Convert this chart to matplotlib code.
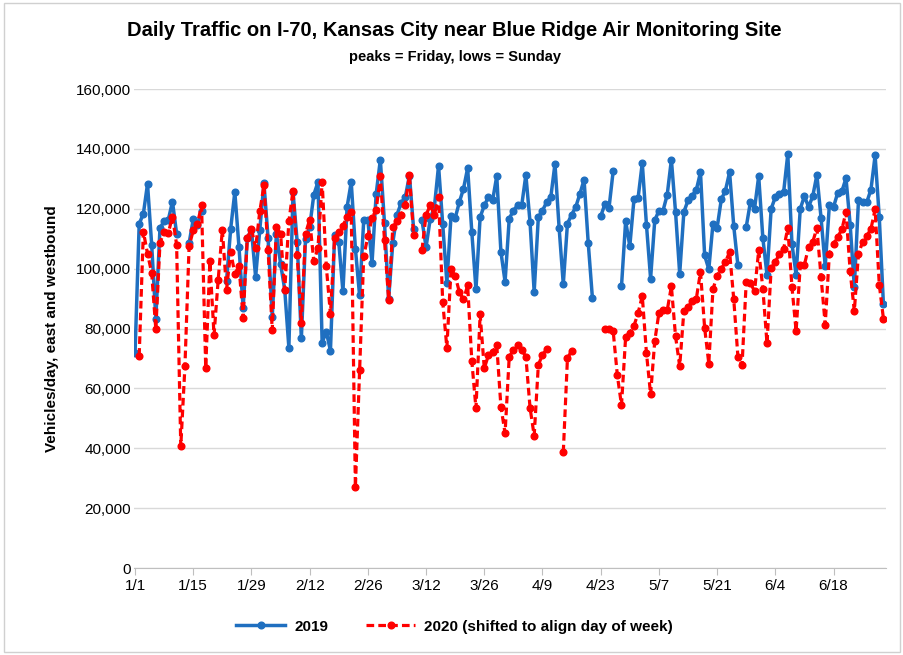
import matplotlib; matplotlib.use('Agg')
import matplotlib.pyplot as plt
import matplotlib.patches as patches
from matplotlib.ticker import FuncFormatter
import numpy as np

plt.rcParams['font.family'] = ['Liberation Sans', 'DejaVu Sans']

BLUE = '#1f6fc0'
RED = '#ff0000'
GRID = '#d9d9d9'

# daily traffic, thousands of vehicles, day 0 = 1/1 (None = no data)
traffic_2019_k = [
    71.7, 115.0, 118.3, 128.3, 108.0, 83.3, 113.6, 115.8, 116.3, 122.4,
    111.7, None, None, 108.5, 116.5, 114.7, 119.4, None, None, None,
    None, None, 95.8, 113.3, 125.6, 107.2, 86.9, 110.2, 113.0, 97.2,
    112.8, 128.6, 110.2, 83.9, 111.7, 101.7, 93.0, 73.6, 125.6, 108.9,
    76.7, 110.0, 113.9, 124.7, 128.9, 75.3, 78.9, 72.6, 111.3, 108.9,
    92.4, 120.6, 128.9, 106.7, 91.1, 116.1, 116.3, 101.9, 125.0, 136.4,
    115.2, 90.0, 108.7, 118.0, 121.9, 123.9, 131.1, 113.3, None, 116.3,
    107.2, 116.7, 120.6, 134.4, 115.0, 95.3, 117.6, 116.9, 122.2, 126.7,
    133.6, 112.2, 93.1, 117.2, 121.1, 123.9, 122.8, 130.9, 105.6, 95.6,
    116.7, 119.4, 121.1, 121.1, 131.3, 115.6, 92.2, 117.2, 119.4, 122.2,
    123.9, 135.0, 113.6, 94.8, 115.0, 118.0, 120.6, 125.0, 129.7, 108.6,
    90.3, None, 117.5, 121.5, 120.3, 132.6, None, 94.1, 115.9, 107.5,
    123.1, 123.7, 135.3, 114.7, 96.7, 116.1, 119.4, 119.4, 124.7, 136.4,
    118.9, 98.3, 118.9, 122.8, 124.4, 126.3, 132.2, 104.4, 99.8, 115.0,
    113.6, 123.1, 126.1, 132.2, 114.2, 101.1, None, 113.9, 122.2, 120.0,
    130.9, 110.2, 97.9, 120.0, 123.9, 125.0, 125.6, 138.3, 108.3, 97.9,
    120.0, 124.2, 120.6, 124.2, 131.3, 116.9, 100.8, 121.3, 120.6, 125.3,
    125.8, 130.2, 114.7, 93.9, 122.8, 122.2, 122.2, 126.4, 137.8, 117.2,
    88.1,
]

traffic_2020_k = [
    None, 70.9, 112.4, 105.0, 98.6, 79.7, 108.6, 112.4, 111.9, 117.4,
    108.0, 40.6, 67.4, 107.4, 112.8, 115.0, 121.1, 66.9, 102.4, 77.8,
    96.3, 113.0, 93.0, 105.6, 98.3, 100.8, 83.6, 110.2, 113.3, 106.9,
    119.1, 127.8, 106.3, 79.4, 113.9, 111.7, 92.8, 115.8, 126.1, 104.4,
    81.9, 111.7, 116.3, 102.4, 106.9, 129.1, 100.8, 84.7, 110.2, 112.2,
    114.4, 117.2, 118.9, 27.0, 66.0, 104.1, 110.8, 116.9, 119.7, 130.9,
    109.4, 89.4, 113.9, 115.8, 118.0, 121.3, 131.3, 111.1, None, 106.1,
    118.0, 121.1, 118.0, 123.9, 88.9, 73.6, 99.8, 97.6, 92.2, 89.7,
    94.4, 69.1, 53.3, 84.7, 66.7, 71.1, 72.2, 74.4, 53.9, 45.0,
    70.6, 72.8, 74.4, 72.8, 70.6, 53.6, 44.2, 67.8, 71.3, 73.0,
    None, None, None, 38.6, 70.0, 72.6, None, None, None, None,
    None, None, None, 79.8, 80.0, 79.1, 64.4, 54.4, 77.2, 78.6,
    80.9, 85.2, 90.9, 71.9, 58.0, 75.8, 85.2, 86.1, 86.1, 94.1,
    77.4, 67.4, 85.8, 87.2, 89.1, 90.0, 98.9, 80.2, 68.3, 93.1,
    97.6, 100.0, 102.2, 105.6, 89.8, 70.6, 67.8, 95.6, 95.3, 92.4,
    106.1, 93.3, 75.0, 100.2, 102.2, 105.0, 106.7, 113.6, 93.9, 79.1,
    101.3, 101.3, 107.2, 108.9, 113.6, 97.2, 81.3, 105.0, 108.3, 110.6,
    113.1, 118.9, 99.1, 85.8, 105.0, 108.9, 110.9, 113.3, 119.8, 94.7,
    83.3,
]

tick_days = [0, 14, 28, 42, 56, 70, 84, 98, 112, 126, 140, 154, 168]
tick_labels = ['1/1', '1/15', '1/29', '2/12', '2/26', '3/12', '3/26',
               '4/9', '4/23', '5/7', '5/21', '6/4', '6/18']


def to_counts(vals):
    return np.array([np.nan if v is None else v * 1000 for v in vals])


days = np.arange(len(traffic_2019_k))
y2019 = to_counts(traffic_2019_k)
y2020 = to_counts(traffic_2020_k)

fig = plt.figure(figsize=(9.04, 6.55), dpi=100)
fig.patch.set_facecolor('white')
fig.patches.append(patches.Rectangle((0.004, 0.005), 0.992, 0.99, transform=fig.transFigure,
                                     fill=False, edgecolor='#d0d0d0', lw=1))

ax = fig.add_axes([0.148, 0.1328, 0.832, 0.7313])
ax.plot(days, y2019, color=BLUE, lw=2.5, marker='o', ms=4.8, label='2019', zorder=3)
ax.plot(days, y2020, color=RED, lw=2.3, ls=(0, (2.4, 1.3)), marker='o', ms=4.8,
        label='2020 (shifted to align day of week)', zorder=4)

ax.set_xlim(-0.3, 180.6)
ax.set_ylim(0, 160000)
ax.set_yticks(np.arange(0, 160001, 20000))
ax.yaxis.set_major_formatter(FuncFormatter(lambda v, p: f'{v:,.0f}'))
ax.set_xticks(tick_days)
ax.set_xticklabels(tick_labels)
ax.grid(axis='y', color=GRID, lw=1)
ax.set_axisbelow(True)
for s in ['left', 'top', 'right']:
    ax.spines[s].set_visible(False)
ax.spines['bottom'].set_color('#bfbfbf')
ax.tick_params(axis='y', length=0, labelsize=11, colors='#000000', pad=2)
ax.tick_params(axis='x', length=5, color='#bfbfbf', labelsize=11, pad=3)

ax.set_ylabel('Vehicles/day, east and westbound', fontsize=11, fontweight='bold', labelpad=12)

fig.text(0.503, 0.953, 'Daily Traffic on I-70, Kansas City near Blue Ridge Air Monitoring Site',
         ha='center', va='center', fontsize=14.5, fontweight='bold')
fig.text(0.503, 0.913, 'peaks = Friday, lows = Sunday',
         ha='center', va='center', fontsize=10.5, fontweight='bold')

leg = fig.legend(loc='center', bbox_to_anchor=(0.503, 0.043), ncol=2, frameon=False,
                 fontsize=11, handlelength=3.2, columnspacing=2.5, handletextpad=0.6)
for t in leg.get_texts():
    t.set_fontweight('bold')

fig.savefig('out.png', dpi=100)
